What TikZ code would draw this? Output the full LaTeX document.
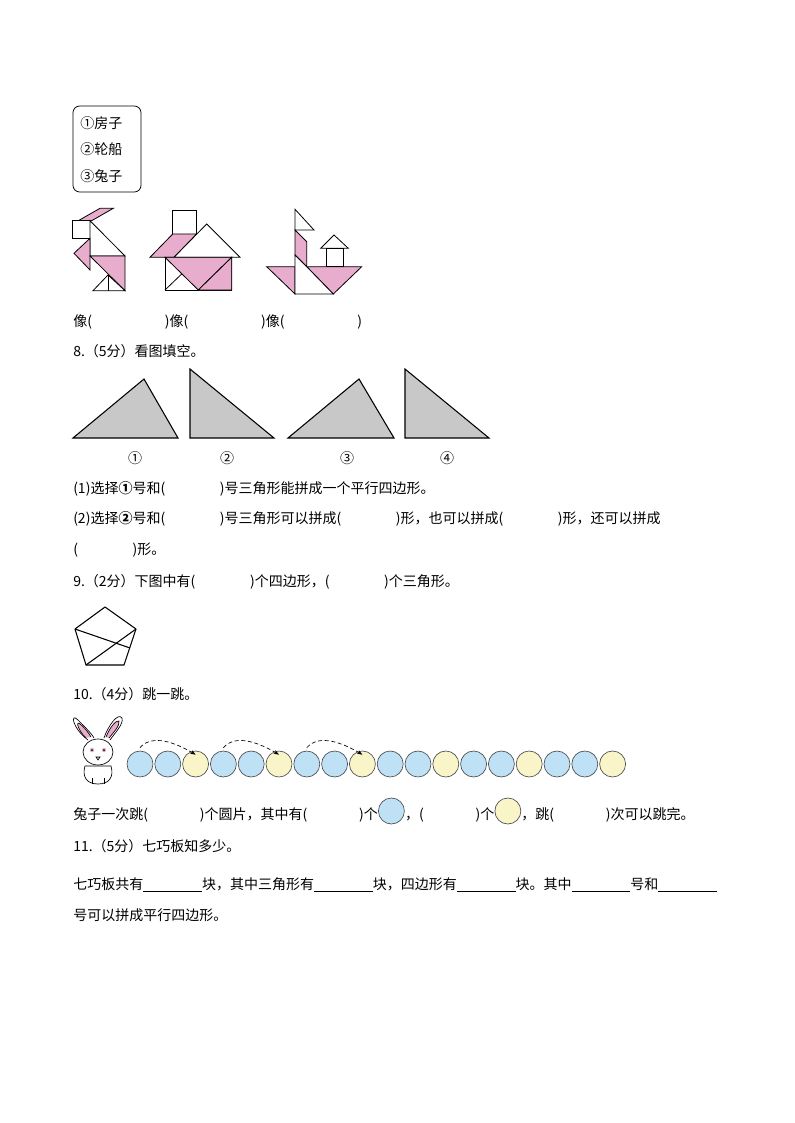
\documentclass[tikz,border=0pt]{standalone}
\usepackage{fontspec}
\setmainfont{Noto Sans CJK SC}
\usetikzlibrary{arrows.meta}
\definecolor{pk}{RGB}{232,172,204}
\definecolor{tg}{RGB}{200,200,200}
\definecolor{cb}{RGB}{190,225,245}
\definecolor{cy}{RGB}{250,245,200}
\newcommand{\bl}{\rule[-2pt]{4.2em}{0.5pt}}
\begin{document}
\begin{tikzpicture}[x=0.75pt,y=-0.75pt,
  txt/.style={anchor=base west,inner sep=0,font=\fontsize{10.5}{12}\selectfont},
  sh/.style={draw=black,line width=0.6pt,line join=miter},
  pkf/.style={sh,fill=pk},
  wf/.style={sh,fill=white},
  tri/.style={sh,fill=tg,line width=0.8pt},
  disc/.style={circle,draw=black!70,line width=0.5pt,minimum size=26pt*0.75,inner sep=0},
  jump/.style={densely dashed,line width=0.5pt,-{Stealth[length=4pt]}}]
\useasboundingbox (0,0) rectangle (794,1123);
% options box
\draw[rounded corners=5pt,line width=0.6pt] (73,106) rectangle (141,192);
\node[txt] (o1) at (80,129) {①房子};
\node[txt] (o2) at (80,155) {②轮船};
\node[txt] (o3) at (80,182) {③兔子};
% figure 1
\draw[pkf] (78.3,220.7)--(91.7,220.7)--(113.3,208.3)--(100,208.3)--cycle;
\draw[wf] (72.3,220.7) rectangle (90,238.3);
\draw[wf] (90,220.7)--(90,256)--(125,256)--cycle;
\draw[pkf] (90,238.3)--(74,253.3)--(90,270)--cycle;
\draw[pkf] (90,256)--(125,256)--(125,290.7)--cycle;
\draw[wf] (93,290.7)--(108,275)--(125,290.7)--cycle;
\draw[sh] (108,275)--(108,290.7);
% figure 2
\draw[wf] (172.7,210) rectangle (196.7,234);
\draw[pkf] (150,257.3)--(172.7,234)--(196.7,234)--(174,257.3)--cycle;
\draw[wf] (174,257.3)--(206.7,224)--(240,257.3)--cycle;
\draw[wf] (165,257.3) rectangle (231.7,290);
\draw[pkf] (165,257.3)--(231.7,257.3)--(198.3,290)--cycle;
\draw[pkf] (198.3,290)--(231.7,257.3)--(231.7,290)--cycle;
\draw[sh] (165,290)--(181.7,274);
% figure 3
\draw[wf] (295,209.3)--(295,230)--(314,230)--cycle;
\draw[pkf] (295,230)--(306.7,241.7)--(306.7,266.7)--(295,255)--cycle;
\draw[pkf] (266.7,266.7)--(295,266.7)--(295,294)--cycle;
\draw[pkf] (306.7,266.7)--(361.7,266.7)--(333.3,294)--cycle;
\draw[wf] (295,255)--(306.7,266.7)--(333.3,294)--(295,294)--cycle;
\draw[wf] (320.7,248.3)--(334,235)--(348.3,248.3)--cycle;
\draw[wf] (326,248.3) rectangle (343.3,266.7);
\node[txt] (l1) at (73,326) {像(\hspace{5.2em})像(\hspace{5.2em})像(\hspace{5.2em})};
% Q8
\node[txt] (q8) at (73,356) {8.（5分）看图填空。};
\draw[tri] (73,438)--(144,379)--(178,438)--cycle;
\draw[tri] (190,369)--(190,438)--(274,438)--cycle;
\draw[tri] (288,438)--(359,379)--(394,438)--cycle;
\draw[tri] (405,369)--(405,438)--(489,438)--cycle;
\node[txt,anchor=base] (n1) at (135,463) {①};
\node[txt,anchor=base] (n2) at (227,463) {②};
\node[txt,anchor=base] (n3) at (347,463) {③};
\node[txt,anchor=base] (n4) at (447,463) {④};
\node[txt] (a1) at (73,493) {(1)选择\textbf{①}号和(\hspace{3.9em})号三角形能拼成一个平行四边形。};
\node[txt] (a2) at (73,523) {(2)选择\textbf{②}号和(\hspace{3.9em})号三角形可以拼成(\hspace{3.9em})形，也可以拼成(\hspace{3.9em})形，还可以拼成};
\node[txt] (a3) at (73,554) {(\hspace{3.9em})形。};
% Q9
\node[txt] (q9) at (73,586) {9.（2分）下图中有(\hspace{3.9em})个四边形，(\hspace{3.9em})个三角形。};
\draw[line width=0.8pt,line join=round] (105,607)--(136,629)--(124,665)--(86,665)--(75,629)--cycle;
\draw[line width=0.8pt] (75,629)--(130,648);
\draw[line width=0.8pt] (86,665)--(136,629);
% Q10
\node[txt] (q10) at (73,699) {10.（4分）跳一跳。};
% rabbit
\begin{scope}[line width=0.5pt]
\draw[fill=white] (88,740) .. controls (72,728) and (70,712) .. (78,720) .. controls (84,726) and (92,734) .. (94,738);
\draw[fill=pk] (86,738) .. controls (78,730) and (76,722) .. (79,723) .. controls (84,727) and (89,733) .. (91,737);
\draw[fill=white] (104,738) .. controls (108,726) and (118,712) .. (122,718) .. controls (124,724) and (114,734) .. (110,740);
\draw[fill=pk] (106,737) .. controls (110,727) and (116,720) .. (119,721) .. controls (120,726) and (113,733) .. (109,738);
\draw[fill=white] (85,766) .. controls (82,776) and (86,784) .. (98,784) .. controls (110,784) and (114,776) .. (111,766) -- cycle;
\draw[fill=white] (98,752) ellipse (15pt*0.75 and 13pt*0.75);
\fill[pk] (92,750) circle (2.2pt*0.75); \fill[pk] (104,750) circle (2.2pt*0.75);
\fill (92,750) circle (1pt*0.75); \fill (104,750) circle (1pt*0.75);
\draw[fill=pk!60] (96,757) -- (100,757) -- (98,760) -- cycle;
\draw (92,784)--(92,778) (104,784)--(104,778);
\end{scope}
% discs
\foreach \i/\c in {0/cb,1/cb,2/cy,3/cb,4/cb,5/cy,6/cb,7/cb,8/cy,9/cb,10/cb,11/cy,12/cb,13/cb,14/cy,15/cb,16/cb,17/cy}{
  \node[disc,fill=\c] (d\i) at ({140+27.8*\i},764) {};
}
\draw[jump] (d0.north) ++(0,-3) .. controls +(12,-14) and +(-20,-12) .. ([yshift=-3]d2.north);
\draw[jump] (d3.north) ++(0,-3) .. controls +(12,-14) and +(-20,-12) .. ([yshift=-3]d5.north);
\draw[jump] (d6.north) ++(0,-3) .. controls +(12,-14) and +(-20,-12) .. ([yshift=-3]d8.north);
% answer line
\node[txt] (b1) at (73,819) {兔子一次跳(\hspace{3.7em})个圆片，其中有(\hspace{3.7em})个};
\node[disc,fill=cb,anchor=west] (cb1) at ([yshift=6]b1.base east) {};
\node[txt,anchor=base west] (b2) at (cb1.east |- b1.base) {，(\hspace{3.7em})个};
\node[disc,fill=cy,anchor=west] (cy1) at ([yshift=6]b2.base east) {};
\node[txt,anchor=base west] (b3) at (cy1.east |- b1.base) {，跳(\hspace{3.7em})次可以跳完。};
% Q11
\node[txt] (q11) at (73,851) {11.（5分）七巧板知多少。};
\node[txt] (c1) at (73,889) {七巧板共有\bl 块，其中三角形有\bl 块，四边形有\bl 块。其中\bl 号和\bl};
\node[txt] (c2) at (73,920) {号可以拼成平行四边形。};
\end{tikzpicture}
\end{document}
